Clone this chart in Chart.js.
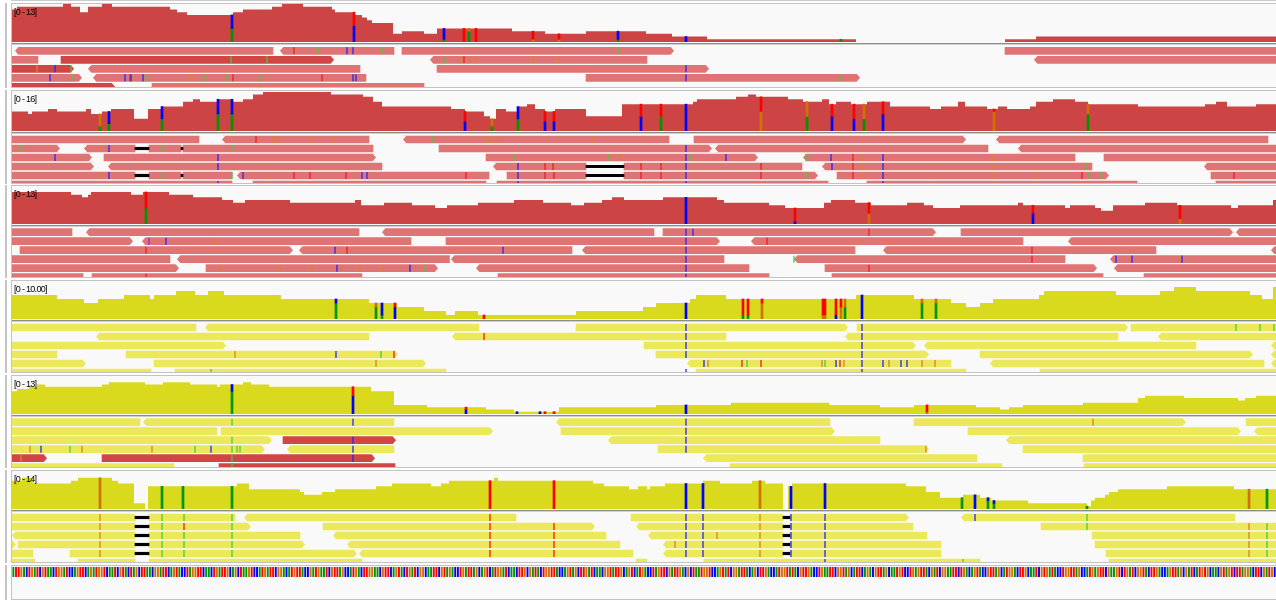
<!DOCTYPE html>
<html><head><meta charset="utf-8">
<script src="https://cdn.jsdelivr.net/npm/chart.js@4.4.0/dist/chart.umd.min.js"></script>
<style>
html,body{margin:0;padding:0;background:#fff;width:1276px;height:607px;overflow:hidden}
.strip{position:absolute;left:5px;width:2px;background:#c4c4c4}
.topline{position:absolute;left:11px;top:0;width:1270px;height:1px;background:#cacaca}
.panel{position:absolute;left:11px;width:1266px;border:1px solid #c3c3c3;background:#f9f9f9;overflow:hidden}
.panel canvas{position:absolute;left:0}
.sep{position:absolute;left:0;width:100%;height:0;border-top:1px solid #8d8d8d;border-bottom:1px solid #cfcfcf}
.lbl{position:absolute;left:2px;top:3px;font:9px "Liberation Sans",Arial,sans-serif;letter-spacing:-0.7px;color:#000;line-height:11px;white-space:pre}
</style></head><body>
<div class="topline"></div>
<script>
// ---------- DATA (positions in view units, coverage in reads) ----------
const P1_COV = [[12,12],[17,13],[63,14],[71,13],[80,11],[88,13],[102,14],[112,13],[170,12],[177,11],[187,10],[233,11],[243,12],[272,13],[282,14],[303,13],[332,12],[335,11],[355,10],[362,9],[367,8],[372,7],[393,3],[402,4],[424,3],[437,5],[512,4],[545,3],[586,4],[646,3],[672,2],[707,1],[856,0],[1005,1],[1036,2],[1278,2]];
const P1_MIS = [[232,'A',5,'C',5],[354,'C',6,'T',5],[444,'A',1,'C',4],[464,'T',5,'',0],[469,'A',4,'G',1],[476,'T',5,'',0],[533,'G',1,'T',3],[559,'G',1,'T',2],[618,'A',1,'C',3],[686,'C',2,'',0],[841,'A',1,'',0]];
const P1_READS = [
[0,15,273,'-',0],[0,280,394,'-',0],[0,402,674,'+',0],[0,1005,1278,'',0],
[1,12,38,'',0],[1,61,334,'+',1],[1,430,647,'-',0],[1,1034,1278,'-',0],
[2,12,74,'+',1],[2,88,360,'-',0],[2,437,709,'+',0],
[3,12,82,'+',0],[3,93,366,'-',0],[3,586,860,'+',0],
[4,12,115,'+',1],[4,152,424,'',0]];
const P1_MM = [[0,27,'G'],[0,294,'T'],[0,318,'A'],[0,347,'C'],[0,353,'C'],[0,383,'A'],[0,618,'A'],
[1,231,'A'],[1,267,'A'],[1,444,'A'],[1,460,'G'],[1,464,'T'],[1,469,'G'],[1,476,'G'],[1,533,'G'],[1,559,'G'],
[2,37,'G'],[2,55,'C'],[2,71,'A'],[2,686,'C'],
[3,50,'C'],[3,73,'A'],[3,125,'C'],[3,130,'T'],[3,131,'C'],[3,143,'C'],[3,147,'A'],[3,190,'G'],[3,194,'G'],[3,204,'A'],[3,227,'A'],[3,233,'T'],[3,260,'A'],[3,322,'T'],[3,353,'C'],[3,356,'C'],[3,686,'C'],[3,840,'A']];
const P1_DEL = [];

const P2_COV = [[12,8],[28,7],[32,8],[48,9],[57,8],[86,9],[91,7],[102,8],[111,9],[134,5],[148,9],[161,10],[183,12],[193,13],[200,12],[218,13],[233,12],[243,13],[253,15],[263,16],[331,15],[363,14],[373,12],[382,10],[451,9],[465,8],[484,6],[490,5],[496,9],[506,8],[518,10],[527,11],[535,9],[545,8],[555,9],[586,6],[622,11],[693,12],[697,13],[736,14],[748,15],[756,14],[788,13],[803,12],[822,13],[829,11],[836,12],[851,11],[867,12],[890,10],[930,9],[941,10],[958,12],[965,10],[987,9],[998,10],[1007,9],[1030,10],[1036,12],[1053,13],[1075,12],[1088,11],[1138,10],[1205,11],[1216,12],[1227,10],[1256,11],[1278,11]];
const P2_MIS = [[100,'A',2,'G',5],[109,'A',3,'C',5],[162,'A',5,'C',5],[218,'A',7,'C',6],[232,'A',7,'C',6],[465,'C',4,'T',4],[492,'A',2,'G',3],[518,'A',5,'C',5],[545,'C',4,'T',4],[554,'C',4,'T',4],[641,'C',6,'T',5],[661,'A',6,'T',5],[686,'C',11,'',0],[761,'G',8,'T',6],[807,'A',6,'G',6],[832,'C',6,'T',5],[854,'C',5,'T',6],[864,'A',5,'G',6],[883,'C',7,'T',5],[994,'G',8,'T',1],[1088,'A',7,'G',4]];
const P2_READS = [
[0,12,199,'',0],[0,222,369,'-',0],[0,403,669,'-',0],[0,694,966,'+',0],[0,996,1268,'-',0],
[1,12,60,'+',0],[1,84,135,'-',0],[1,149,181,'',0],[1,183,373,'',0],[1,439,712,'+',0],[1,715,988,'-',0],[1,1018,1278,'-',0],
[2,12,92,'+',0],[2,104,376,'+',0],[2,486,758,'+',0],[2,803,1075,'-',0],[2,1104,1278,'',0],
[3,12,94,'+',0],[3,108,382,'-',0],[3,493,586,'-',0],[3,624,802,'',0],[3,822,1092,'-',0],[3,1204,1278,'-',0],
[4,12,135,'',0],[4,149,181,'',0],[4,183,232,'',0],[4,237,489,'-',0],[4,507,586,'',0],[4,624,818,'+',0],[4,837,1109,'+',0],[4,1211,1278,'',0],
[5,12,232,'',0],[5,253,486,'',0],[5,497,828,'',0],[5,867,1137,'',0],[5,1216,1278,'',0]];
const P2_MM = [
[0,256,'T'],[0,272,'G'],[0,279,'G'],[0,313,'G'],[0,335,'G'],[0,432,'A'],[0,487,'G'],[0,491,'G'],[0,498,'G'],[0,593,'G'],
[1,21,'A'],[1,100,'G'],[1,109,'C'],[1,162,'A'],[1,232,'A'],[1,686,'C'],
[2,55,'C'],[2,218,'C'],[2,514,'A'],[2,609,'A'],[2,613,'G'],[2,620,'G'],[2,686,'C'],[2,690,'A'],[2,726,'C'],[2,806,'A'],[2,831,'C'],[2,853,'T'],[2,863,'G'],[2,883,'C'],[2,993,'G'],
[3,218,'C'],[3,518,'C'],[3,545,'T'],[3,553,'T'],[3,641,'T'],[3,661,'T'],[3,686,'C'],[3,761,'T'],[3,832,'C'],[3,853,'T'],[3,863,'G'],[3,883,'C'],[3,993,'G'],[3,1087,'A'],
[4,100,'G'],[4,109,'C'],[4,162,'A'],[4,232,'A'],[4,243,'C'],[4,267,'G'],[4,294,'T'],[4,310,'T'],[4,346,'T'],[4,362,'C'],[4,367,'C'],[4,466,'T'],[4,518,'C'],[4,545,'T'],[4,554,'T'],[4,641,'T'],[4,661,'T'],[4,686,'C'],[4,761,'T'],[4,806,'A'],[4,853,'T'],[4,863,'G'],[4,883,'C'],[4,932,'G'],[4,994,'G'],[4,1036,'G'],[4,1082,'T'],[4,1088,'A'],[4,1100,'A'],[4,1234,'T'],
[5,218,'C'],[5,518,'C'],[5,686,'C'],[5,883,'C']];
const P2_DEL = [[1,135,149],[1,181,183],[3,586,624],[4,135,149],[4,181,183],[4,586,624]];

const P3_COV = [[12,12],[71,11],[82,10],[88,11],[91,12],[131,11],[143,12],[169,11],[193,10],[222,9],[233,8],[245,9],[290,8],[355,9],[361,7],[384,8],[412,7],[435,6],[447,7],[478,8],[514,9],[543,8],[571,7],[584,8],[602,9],[612,10],[624,9],[663,10],[717,9],[724,8],[769,7],[785,6],[824,8],[831,9],[855,8],[871,7],[907,8],[924,7],[933,6],[960,7],[1018,8],[1023,7],[1065,6],[1070,7],[1095,6],[1101,5],[1113,7],[1145,8],[1177,7],[1231,6],[1238,7],[1273,9],[1278,9]];
const P3_MIS = [[146,'A',6,'T',6],[686,'C',10,'',0],[795,'C',1,'T',5],[869,'G',4,'T',4],[1033,'C',4,'T',3],[1180,'G',2,'T',5]];
const P3_READS = [
[0,12,72,'',0],[0,86,359,'-',0],[0,382,654,'-',0],[0,663,936,'+',0],[0,961,1233,'+',0],[0,1236,1278,'-',0],
[1,12,133,'+',0],[1,142,411,'-',0],[1,446,720,'+',0],[1,751,1023,'-',0],[1,1068,1278,'-',0],
[2,20,293,'+',0],[2,299,572,'-',0],[2,582,855,'-',0],[2,883,1156,'-',0],[2,1271,1278,'-',0],
[3,12,170,'',0],[3,177,450,'-',0],[3,451,724,'-',0],[3,794,1065,'-',0],[3,1110,1278,'-',0],
[4,12,179,'+',0],[4,206,438,'+',0],[4,476,749,'-',0],[4,825,1097,'+',0],[4,1114,1278,'-',0],
[5,12,83,'',0],[5,92,362,'',0],[5,498,769,'',0],[5,832,1103,'',0],[5,1144,1278,'',0]];
const P3_MM = [[0,686,'C'],[0,693,'C'],[0,869,'T'],
[1,149,'I'],[1,166,'C'],[1,215,'G'],[1,686,'C'],[1,767,'T'],
[2,146,'T'],[2,335,'C'],[2,347,'T'],[2,503,'C'],[2,686,'C'],[2,1032,'T'],
[3,686,'C'],[3,794,'A'],[3,1032,'T'],[3,1116,'C'],[3,1132,'C'],[3,1181,'G'],[3,1182,'C'],
[4,220,'G'],[4,281,'G'],[4,312,'G'],[4,337,'C'],[4,360,'G'],[4,383,'G'],[4,410,'C'],[4,425,'A'],[4,686,'C'],[4,869,'T'],
[5,146,'T'],[5,686,'C']];
const P3_DEL = [];

const P4_COV = [[12,6],[57,5],[84,4],[98,5],[124,6],[150,5],[154,6],[176,7],[195,6],[208,7],[224,6],[281,5],[369,4],[397,3],[424,2],[446,1],[455,2],[478,1],[576,2],[643,3],[656,4],[690,5],[696,6],[726,5],[856,6],[914,5],[951,4],[966,3],[980,4],[993,5],[1039,6],[1044,7],[1116,6],[1160,7],[1174,8],[1196,7],[1250,6],[1262,5],[1273,8],[1278,8]];
const P4_MIS = [[336,'A',4,'C',1],[376,'A',3,'G',1],[382,'A',1,'C',3],[395,'C',3,'T',1],[484,'T',1,'',0],[686,'C',4,'',0],[743,'A',1,'T',4],[748,'A',1,'T',4],[762,'G',4,'T',1],[823,'G',1,'T',4],[825,'G',1,'T',4],[836,'C',1,'T',4],[841,'G',3,'T',2],[845,'A',3,'G',2],[862,'C',6,'',0],[922,'A',4,'G',1],[936,'A',4,'G',1]];
const P4_READS = [
[0,12,196,'',0],[0,205,479,'-',0],[0,576,848,'+',0],[0,857,1128,'+',0],[0,1131,1278,'',0],
[1,96,369,'-',0],[1,452,726,'-',0],[1,845,1118,'-',0],[1,1158,1278,'-',0],
[2,12,226,'+',0],[2,644,916,'+',0],[2,924,1196,'-',0],[2,1271,1278,'-',0],
[3,12,57,'',0],[3,126,398,'+',0],[3,656,929,'+',0],[3,980,1253,'+',0],[3,1271,1278,'-',0],
[4,12,86,'+',0],[4,154,426,'+',0],[4,687,951,'-',0],[4,990,1264,'-',0],[4,1271,1278,'-',0],
[5,12,151,'',0],[5,175,446,'',0],[5,696,966,'',0],[5,1040,1278,'',0]];
const P4_MM = [[0,686,'C'],[0,862,'C'],[0,1236,'A'],[0,1260,'A'],[0,1274,'A'],
[1,484,'T'],[1,686,'C'],[1,862,'C'],
[2,686,'C'],[2,862,'C'],
[3,235,'G'],[3,336,'C'],[3,381,'A'],[3,394,'T'],[3,686,'C'],[3,862,'C'],
[4,376,'G'],[4,704,'C'],[4,708,'G'],[4,742,'T'],[4,747,'A'],[4,761,'T'],[4,822,'G'],[4,825,'A'],[4,836,'C'],[4,840,'T'],[4,844,'G'],[4,862,'C'],[4,883,'C'],[4,889,'G'],[4,901,'C'],[4,907,'C'],[4,922,'G'],[4,935,'G'],
[5,211,'G'],[5,686,'C'],[5,862,'C']];
const P4_DEL = [];

const P5_COV = [[12,10],[17,11],[29,12],[37,13],[45,12],[102,13],[109,14],[145,13],[163,14],[190,13],[217,12],[220,13],[243,14],[251,13],[269,12],[371,10],[394,4],[427,3],[486,2],[514,1],[559,3],[656,4],[731,5],[829,4],[880,3],[914,4],[976,3],[1000,2],[1009,3],[1023,4],[1083,5],[1138,7],[1145,8],[1184,7],[1238,6],[1245,7],[1256,8],[1278,8]];
const P5_MIS = [[232,'A',10,'C',3],[353,'C',8,'T',4],[466,'C',2,'T',1],[517,'C',1,'',0],[540,'C',1,'',0],[545,'T',1,'',0],[554,'T',1,'',0],[686,'C',4,'',0],[927,'G',1,'T',3]];
const P5_READS = [
[0,12,140,'',0],[0,143,394,'-',0],[0,556,830,'-',0],[0,914,1186,'+',0],[0,1246,1278,'',0],
[1,12,217,'',0],[1,221,493,'+',0],[1,561,835,'+',0],[1,968,1241,'+',0],[1,1254,1278,'-',0],
[2,12,272,'+',0],[2,283,396,'+',1],[2,608,880,'-',0],[2,1006,1278,'-',0],
[3,12,265,'+',0],[3,287,394,'-',0],[3,658,929,'+',0],[3,1023,1278,'',0],
[4,12,47,'+',1],[4,102,375,'+',1],[4,703,977,'-',0],[4,1083,1278,'',0],
[5,12,174,'',0],[5,219,395,'',1],[5,730,1002,'',0],[5,1084,1278,'',0]];
const P5_MM = [[0,232,'A'],[0,353,'C'],[0,686,'C'],[0,1093,'G'],
[1,686,'C'],
[2,232,'A'],[2,353,'C'],[2,686,'C'],
[3,30,'G'],[3,41,'C'],[3,70,'A'],[3,82,'G'],[3,152,'G'],[3,195,'A'],[3,211,'C'],[3,232,'A'],[3,237,'A'],[3,240,'A'],[3,353,'C'],[3,686,'C'],[3,926,'G'],
[4,21,'G'],[4,232,'A'],[4,353,'C'],
[5,232,'A']];
const P5_DEL = [];

const P6_COV = [[12,10],[22,11],[33,9],[71,10],[78,11],[112,10],[118,9],[134,2],[145,0],[148,8],[237,9],[249,7],[300,6],[304,5],[322,6],[335,7],[376,8],[392,9],[431,8],[441,9],[449,10],[494,11],[498,10],[593,9],[604,8],[629,7],[638,8],[647,7],[650,8],[665,9],[703,10],[720,9],[752,10],[765,9],[783,0],[788,8],[792,9],[906,8],[926,6],[940,4],[963,5],[980,4],[991,3],[1028,2],[1087,1],[1091,3],[1095,4],[1105,5],[1109,6],[1118,7],[1167,8],[1234,7],[1278,7]];
const P6_MIS = [[100,'G',11,'',0],[162,'A',8,'',0],[183,'A',8,'',0],[232,'A',8,'',0],[490,'T',10,'',0],[554,'T',10,'',0],[686,'C',9,'',0],[703,'C',9,'',0],[760,'G',10,'',0],[791,'C',8,'',0],[825,'C',9,'',0],[962,'A',4,'',0],[975,'C',5,'',0],[988,'A',3,'C',1],[994,'A',2,'C',1],[1087,'A',1,'',0],[1249,'G',7,'',0],[1267,'A',7,'',0]];
const P6_READS = [
[0,12,135,'',0],[0,149,235,'',0],[0,244,516,'-',0],[0,631,783,'',0],[0,790,909,'+',0],[0,961,1235,'-',0],
[1,12,135,'',0],[1,149,251,'+',0],[1,323,595,'+',0],[1,636,783,'-',0],[1,790,913,'',0],[1,1041,1278,'',0],
[2,12,135,'-',0],[2,149,300,'',0],[2,333,606,'-',0],[2,648,783,'-',0],[2,790,927,'',0],[2,1092,1278,'',0],
[3,12,16,'+',0],[3,18,135,'',0],[3,149,305,'+',0],[3,347,620,'-',0],[3,663,783,'-',0],[3,790,941,'',0],[3,1095,1278,'',0],
[4,12,33,'',0],[4,70,135,'',0],[4,149,357,'+',0],[4,359,633,'-',0],[4,663,783,'-',0],[4,790,941,'',0],[4,1106,1278,'',0],
[5,12,35,'',0],[5,78,135,'',0],[5,149,362,'',0],[5,636,647,'',0],[5,704,980,'',0],[5,1109,1278,'',0]];
const P6_MM = [
[0,100,'G'],[0,162,'A'],[0,184,'A'],[0,232,'A'],[0,490,'T'],[0,686,'C'],[0,703,'C'],[0,760,'G'],[0,791,'C'],[0,825,'C'],[0,975,'C'],[0,1087,'A'],
[1,100,'G'],[1,162,'A'],[1,184,'T'],[1,232,'A'],[1,490,'T'],[1,554,'T'],[1,686,'C'],[1,703,'C'],[1,760,'G'],[1,791,'C'],[1,825,'C'],[1,1087,'A'],[1,1249,'G'],[1,1267,'A'],
[2,100,'G'],[2,162,'A'],[2,184,'A'],[2,232,'A'],[2,490,'T'],[2,554,'T'],[2,686,'C'],[2,703,'C'],[2,717,'G'],[2,760,'G'],[2,791,'C'],[2,825,'C'],[2,1249,'G'],[2,1267,'A'],
[3,100,'G'],[3,162,'A'],[3,184,'A'],[3,232,'A'],[3,490,'T'],[3,554,'T'],[3,675,'G'],[3,686,'C'],[3,703,'C'],[3,760,'G'],[3,791,'C'],[3,825,'C'],[3,1249,'G'],[3,1267,'A'],
[4,100,'G'],[4,162,'A'],[4,184,'A'],[4,232,'A'],[4,490,'T'],[4,554,'T'],[4,686,'C'],[4,703,'C'],[4,760,'G'],[4,791,'C'],[4,825,'C'],[4,1249,'G'],[4,1267,'A'],
[5,825,'C'],[5,963,'A']];
const P6_DEL = [[0,135,149],[1,135,149],[2,135,149],[3,135,149],[4,135,149],[0,783,790],[1,783,790],[2,783,790],[3,783,790],[4,783,790]];

const SEQ = 'ATTGACTGATCGTAACTGGATCCAGTTCAGATGGTCAATCGTACTAGCTTAACGGATTCA' +
  'GTACCTAGGTTCAACTGATTGCAGCTAAGTCCATGATTCGGACATGTTACCGATGAATCG' +
  'TTAGCCATGACTTGGAACGTTCAGTACTGATCGGCAATTCGTAGACCTGATTAGCAGTCA' +
  'TGGATCAACTTGCGATACTGGTTACCAGTAGCTTGATCAACGGTATTGCAGTCATGACCT' +
  'AGTTCGATTGACGCTAATGGTCCAGTATCGGATTACAGCTTGACCATGGTATACGTTGAC' +
  'CTGAATTCGGTAGCATTCAGACGTTAGCAATGTCCTGAGTTACGATCGGAATTCTGACAG' +
  'TACCGTTAGCATGGACTTGCAATCGTGATACCTGGTTAGCCATGAGTTCGAAGTCTGATC' +
  'GGTACTTGACCAGTTAGCGATCATGTGCAACGTAGTCTTAGGACTTCGATGC';
const SEQ_BASES = SEQ.split('');

const LABELS = ['[0 - 13]','[0 - 16]','[0 - 13]','[0 - 10.00]','[0 - 13]','[0 - 14]'];

// ---------- STYLE / LAYOUT ----------
const X0 = 12, X1 = 1278, ROW_PX = 9, PANEL_BG = '#f9f9f9';
const BASE_COV = {A:'#009600', C:'#0000ff', G:'#d17105', T:'#ff0000'};
const BASE_READ = {A:'#3fd03f', C:'#2424ff', G:'#d8842c', T:'#f21d1d', I:'#8a2be2'};
const RED = {cov:'#cd4444', read:'#e07474', dark:'#d24545'};
const YEL = {cov:'#d9d91e', read:'#ebe95a', dark:'#d24545'};
const PANELS = [
  {top:3,   bottom:88,  base:42.3,  unit:2.71, col:RED, data:[P1_COV,P1_MIS,P1_READS,P1_MM,P1_DEL]},
  {top:90,  bottom:184, base:131,   unit:2.44, col:RED, data:[P2_COV,P2_MIS,P2_READS,P2_MM,P2_DEL]},
  {top:185, bottom:278, base:223.7, unit:2.67, col:RED, data:[P3_COV,P3_MIS,P3_READS,P3_MM,P3_DEL]},
  {top:280, bottom:373, base:319,   unit:4.0,  col:YEL, data:[P4_COV,P4_MIS,P4_READS,P4_MM,P4_DEL]},
  {top:375, bottom:468, base:413.7, unit:2.27, col:YEL, data:[P5_COV,P5_MIS,P5_READS,P5_MM,P5_DEL]},
  {top:470, bottom:563, base:509,   unit:2.83, col:YEL, data:[P6_COV,P6_MIS,P6_READS,P6_MM,P6_DEL]}
];

const baseOpts = () => ({
  responsive:false, animation:false, events:[], devicePixelRatio:1,
  layout:{padding:0, autoPadding:false},
  plugins:{legend:{display:false}, tooltip:{enabled:false}}
});

const arrowCut = {
  id:'arrowCut',
  afterDatasetDraw(chart, args){
    if (args.index !== 0) return;
    const ctx = chart.ctx, raw = chart.data.datasets[0].data;
    ctx.save(); ctx.fillStyle = PANEL_BG;
    args.meta.data.forEach((el, i) => {
      const st = raw[i].st; if (!st) return;
      const p = el.getProps(['x','y','base','height'], true);
      const top = p.y - p.height/2 - 0.6, bot = p.y + p.height/2 + 0.6;
      const dir = st === '+' ? 1 : -1;
      const tip = dir > 0 ? Math.max(p.x, p.base) : Math.min(p.x, p.base);
      const inner = tip - dir*3.5, out = tip + dir*1.2;
      [top, bot].forEach(edge => {
        ctx.beginPath(); ctx.moveTo(inner, edge); ctx.lineTo(out, edge);
        ctx.lineTo(out, p.y); ctx.lineTo(tip, p.y); ctx.closePath(); ctx.fill();
      });
    });
    ctx.restore();
  }
};

function makeCanvas(parent, top, h, left, w){
  const c = document.createElement('canvas');
  c.width = w || 1266; c.height = h;
  c.style.top = top + 'px'; c.style.left = (left || 0) + 'px';
  c.style.width = (w || 1266) + 'px'; c.style.height = h + 'px';
  parent.appendChild(c); return c;
}
function strip(top, bottom){
  const s = document.createElement('div'); s.className = 'strip';
  s.style.top = top + 'px'; s.style.height = (bottom - top) + 'px';
  document.body.appendChild(s);
}

PANELS.forEach((P, pi) => {
  const [COV, MIS, READS, MM, DEL] = P.data;
  const panel = document.createElement('div'); panel.className = 'panel';
  const innerH = P.bottom - P.top - 2;
  panel.style.top = P.top + 'px'; panel.style.height = innerH + 'px';
  document.body.appendChild(panel);
  strip(P.top, P.bottom);
  const inner0 = P.top + 1;
  const covH = Math.round(P.base - inner0);

  // coverage track
  const covPts = COV.map(([x, v]) => ({x, y:v}));
  const misBars = [];
  MIS.forEach(([x, b1, n1, b2, n2]) => {
    misBars.push({x, y:[0, n1], c:BASE_COV[b1]});
    if (n2 > 0) misBars.push({x, y:[n1, n1 + n2], c:BASE_COV[b2]});
  });
  const o1 = baseOpts();
  o1.scales = {
    x:{type:'linear', min:X0, max:X1, display:false, offset:false},
    y:{type:'linear', min:0, max:covH / P.unit, display:false}
  };
  new Chart(makeCanvas(panel, 0, covH), {
    type:'line',
    data:{datasets:[
      {type:'bar', data:misBars, backgroundColor:c => c.raw ? c.raw.c : 'transparent', barThickness:2, order:1},
      {type:'line', data:covPts, stepped:'before', fill:'origin', backgroundColor:P.col.cov,
       borderColor:'rgba(0,0,0,0)', borderWidth:0, pointRadius:0, order:2}
    ]},
    options:o1
  });

  const sep = document.createElement('div'); sep.className = 'sep';
  sep.style.top = (covH + 1) + 'px'; panel.appendChild(sep);

  const lbl = document.createElement('div'); lbl.className = 'lbl';
  lbl.textContent = LABELS[pi]; panel.appendChild(lbl);

  // alignment track
  const readsTop = covH + 3, readsH = innerH - readsTop;
  const rowOff = (P.base + 8.5) - (inner0 + readsTop);
  const ymin = -rowOff / ROW_PX, ymax = ymin + readsH / ROW_PX;
  const o2 = baseOpts();
  o2.scales = {
    x:{type:'linear', min:X0, max:X1, display:false, offset:false, stacked:false},
    y:{type:'linear', min:ymin, max:ymax, reverse:true, display:false, offset:false}
  };
  new Chart(makeCanvas(panel, readsTop, readsH), {
    type:'bar',
    data:{datasets:[
      {type:'bar', indexAxis:'y', stack:'r', order:3, barThickness:7,
       data:READS.map(([r, s, e, st, d]) => ({x:[s, e], y:r, st, c:d ? P.col.dark : P.col.read})),
       backgroundColor:c => c.raw ? c.raw.c : 'transparent'},
      {type:'bar', indexAxis:'y', stack:'r', order:2, barThickness:2.5,
       data:DEL.map(([r, s, e]) => ({x:[s, e], y:r})), backgroundColor:'#000'},
      {type:'scatter', order:1, pointStyle:'line', rotation:90, radius:3.5, borderWidth:1.3,
       data:MM.map(([r, x, b]) => ({x, y:r, c:BASE_READ[b]})),
       borderColor:c => c.raw ? c.raw.c : 'transparent', backgroundColor:'transparent'}
    ]},
    options:o2,
    plugins:[arrowCut]
  });
});

// reference sequence track
(function(){
  const top = 565, bottom = 600;
  const panel = document.createElement('div'); panel.className = 'panel';
  panel.style.top = top + 'px'; panel.style.height = (bottom - top - 2) + 'px';
  document.body.appendChild(panel);
  strip(top, bottom);
  const o = baseOpts();
  o.scales = {x:{display:false}, y:{display:false, min:0, max:1}};
  new Chart(makeCanvas(panel, 1, 10, 0, 1264), {
    type:'bar',
    data:{labels:SEQ_BASES, datasets:[{
      data:SEQ_BASES.map(() => 1),
      backgroundColor:SEQ_BASES.map(b => BASE_COV[b]),
      barPercentage:0.72, categoryPercentage:1
    }]},
    options:o
  });
})();
</script>
</body></html>
